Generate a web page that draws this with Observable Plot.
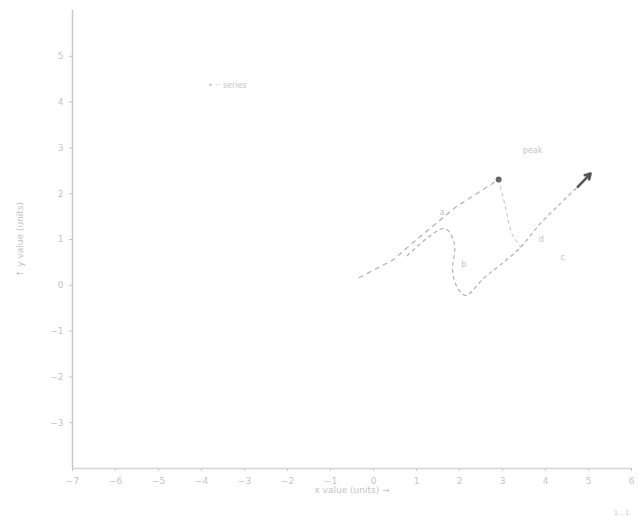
<!DOCTYPE html>
<html>
<head>
<meta charset="utf-8">
<script src="https://cdn.jsdelivr.net/npm/d3@7"></script>
<script src="https://cdn.jsdelivr.net/npm/@observablehq/plot@0.6"></script>
<style>
  body { margin: 0; background: #fff; font-family: "DejaVu Sans", sans-serif; }
  #chart svg { display: block; }
</style>
</head>
<body>
<div id="chart"></div>
<script>
// X and Y tick values
const xTicks = [-7, -6, -5, -4, -3, -2, -1, 0, 1, 2, 3, 4, 5, 6];
const yTicks = [-3, -2, -1, 0, 1, 2, 3, 4, 5];
const xDomain = [-7, 6];
const yDomain = [-4, 6];

// Trend line (dashed), from start to peak
const trendX = [-0.33, 0.45, 0.98, 1.9, 2.91];
const trendY = [0.17, 0.55, 0.98, 1.7, 2.31];

// Drop from peak
const dropX = [2.91, 3.05, 3.2, 3.42];
const dropY = [2.31, 1.78, 1.15, 0.83];

// Looping path ending with arrow
const loopX = [0.79, 1.65, 1.88, 1.84, 1.95, 2.14, 2.58, 2.93, 3.42, 3.88, 4.35, 4.75, 5.05];
const loopY = [0.65, 1.24, 0.91, 0.32, -0.05, -0.22, 0.17, 0.43, 0.83, 1.35, 1.79, 2.15, 2.44];

// Highlighted point
const ptX = [2.91];
const ptY = [2.31];

// Annotation labels
const labelX = [-3.4, 3.7, 1.6, 2.1, 4.4, 3.9];
const labelY = [4.36, 2.95, 1.6, 0.45, 0.6, 1.0];
const labelText = ["• ·· series", "peak", "a", "b", "c", "d"];

const trend = trendX.map((x, i) => ({x, y: trendY[i]}));
const drop = dropX.map((x, i) => ({x, y: dropY[i]}));
const loop = loopX.map((x, i) => ({x, y: loopY[i]}));
const pts = ptX.map((x, i) => ({x, y: ptY[i]}));
const labels = labelX.map((x, i) => ({x, y: labelY[i], t: labelText[i]}));
const n = loop.length;
const head = [{x1: loop[n - 2].x, y1: loop[n - 2].y, x2: loop[n - 1].x, y2: loop[n - 1].y}];

const chart = Plot.plot({
  width: 639,
  height: 518,
  marginLeft: 72,
  marginRight: 8,
  marginTop: 10,
  marginBottom: 50,
  style: {fontSize: "9px", fontFamily: "DejaVu Sans, sans-serif", color: "#c4c4c4", background: "#fff"},
  x: {domain: xDomain, ticks: xTicks, label: "x value (units) →", labelAnchor: "center", labelOffset: 24, tickSize: 3},
  y: {domain: yDomain, ticks: yTicks, label: "↑ y value (units)", labelAnchor: "center", labelOffset: 56, tickSize: 3},
  marks: [
    Plot.ruleX([xDomain[0]], {stroke: "#c8c8c8", strokeWidth: 1.5}),
    Plot.ruleY([yDomain[0]], {stroke: "#d4d4d4", strokeWidth: 1.5}),
    Plot.line(trend, {x: "x", y: "y", stroke: "#b0b0b0", strokeWidth: 1.2, strokeDasharray: "4,5"}),
    Plot.line(drop, {x: "x", y: "y", stroke: "#c0c0c0", strokeWidth: 1, strokeDasharray: "3,4"}),
    Plot.line(loop, {x: "x", y: "y", stroke: "#b0b0b0", strokeWidth: 1.2, strokeDasharray: "3,4", curve: "catmull-rom"}),
    Plot.arrow(head, {x1: "x1", y1: "y1", x2: "x2", y2: "y2", stroke: "#555", strokeWidth: 2.5, headLength: 10}),
    Plot.dot(pts, {x: "x", y: "y", r: 3, fill: "#666"}),
    Plot.text(labels, {x: "x", y: "y", text: "t", fill: "#c4c4c4", fontSize: 8}),
    Plot.text(["1 : 1"], {frameAnchor: "bottom-right", dy: 46, dx: -2, fill: "#c8c8c8", fontSize: 7})
  ]
});
document.getElementById("chart").append(chart);
</script>
</body>
</html>
